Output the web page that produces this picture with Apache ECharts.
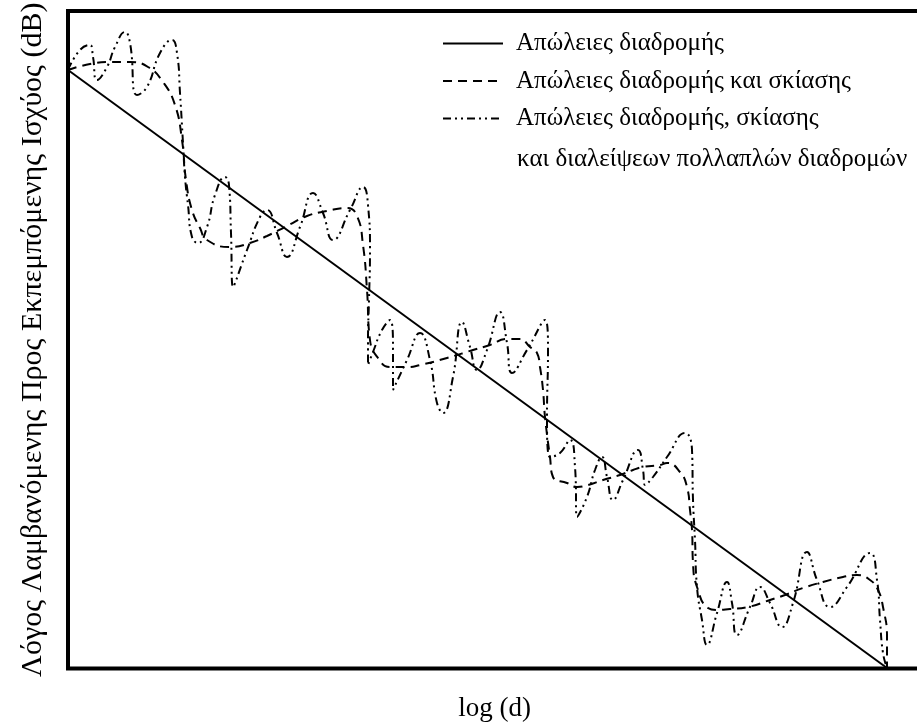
<!DOCTYPE html>
<html>
<head>
<meta charset="utf-8">
<script src="https://cdn.jsdelivr.net/npm/echarts@6/dist/echarts.min.js"></script>
<style>html,body{margin:0;padding:0;background:#fff}#c{width:917px;height:724px}</style>
</head>
<body>
<div id="c"></div>
<script>
// Series names / legend texts
const seriesNames = ['Απώλειες διαδρομής', 'Απώλειες διαδρομής και σκίασης', 'Απώλειες διαδρομής, σκίασης και διαλείψεων πολλαπλών διαδρομών'];
const legendLine3a = 'Απώλειες διαδρομής, σκίασης';
const legendLine3b = 'και διαλείψεων πολλαπλών διαδρομών';
const xName = 'log (d)';
const yName = 'Λόγος Λαμβανόμενης Προς Εκπεμπόμενης Ισχύος (dB)';

// [log(d), dB] pairs (relative units)
const pathLoss = [[0, -5.9], [8.19, -65.7]];

const shadowing = [
  [0, -5.9], [0.22, -5.3], [0.42, -5.1], [0.62, -5.1], [0.80, -5.6], [0.95, -7.1], [1.07, -9.4], [1.14, -12.9],
  [1.18, -16.9], [1.24, -19.9], [1.32, -21.7], [1.39, -22.9], [1.62, -23.6], [1.82, -23.2], [1.99, -22.5],
  [2.19, -21.5], [2.39, -20.5], [2.59, -20.0], [2.79, -19.7], [2.89, -20.5], [2.95, -23.4], [2.99, -27.9],
  [3.02, -32.9], [3.10, -34.7], [3.22, -35.6], [3.39, -35.6], [3.52, -35.4], [3.79, -34.7], [4.05, -33.9],
  [4.22, -33.4], [4.39, -32.8], [4.52, -32.8], [4.62, -33.6], [4.69, -34.2], [4.72, -35.6], [4.75, -37.9],
  [4.77, -40.6], [4.82, -44.6], [4.85, -46.6], [4.99, -47.2], [5.09, -47.6], [5.20, -47.4], [5.35, -46.9],
  [5.52, -46.4], [5.65, -45.9], [5.75, -45.6], [5.92, -45.4], [5.99, -45.2], [6.12, -46.1], [6.19, -47.6],
  [6.22, -49.9], [6.24, -51.9], [6.25, -55.2], [6.29, -57.6], [6.40, -59.7], [6.49, -59.9], [6.62, -59.8],
  [6.80, -59.6], [7.02, -58.9], [7.17, -58.4], [7.35, -57.7], [7.55, -57.1], [7.75, -56.6], [7.89, -56.4],
  [8.02, -56.9], [8.10, -57.9], [8.15, -59.6], [8.19, -62.6], [8.19, -65.6]
];

const multipath = [
  [0, -5.9], [0.12, -3.9], [0.22, -3.4], [0.25, -4.6], [0.29, -6.9], [0.39, -5.6], [0.47, -3.6], [0.57, -2.1],
  [0.62, -3.2], [0.69, -8.4], [0.79, -7.6], [0.92, -4.2], [1.04, -2.9], [1.09, -4.2], [1.12, -8.2], [1.15, -13.2],
  [1.17, -16.6], [1.20, -19.4], [1.24, -22.6], [1.30, -23.2], [1.39, -21.6], [1.47, -18.4], [1.57, -16.6],
  [1.61, -17.4], [1.63, -22.2], [1.65, -27.6], [1.79, -23.9], [1.92, -20.6], [1.99, -19.9], [2.09, -22.2],
  [2.19, -24.6], [2.32, -21.6], [2.45, -18.2], [2.55, -20.2], [2.65, -22.9], [2.82, -19.9], [2.95, -17.6],
  [3.00, -19.4], [3.02, -23.9], [3.01, -28.9], [3.00, -32.9], [3.00, -35.4], [3.05, -34.1], [3.14, -31.9],
  [3.22, -30.9], [3.25, -33.9], [3.25, -37.9], [3.39, -34.9], [3.52, -32.2], [3.62, -34.9], [3.69, -39.2],
  [3.75, -40.2], [3.85, -36.6], [3.94, -31.1], [4.02, -33.6], [4.09, -35.9], [4.19, -33.9], [4.32, -30.1],
  [4.39, -33.2], [4.44, -36.2], [4.59, -33.9], [4.77, -30.9], [4.80, -33.9], [4.79, -40.6], [4.82, -44.6],
  [4.92, -44.2], [5.02, -42.9], [5.07, -45.6], [5.09, -50.6], [5.19, -48.6], [5.27, -45.9], [5.34, -44.6],
  [5.39, -46.6], [5.45, -48.9], [5.55, -46.9], [5.70, -43.9], [5.75, -45.9], [5.77, -47.4], [5.85, -46.6],
  [5.99, -44.6], [6.17, -42.2], [6.24, -43.9], [6.25, -48.9], [6.27, -52.9], [6.29, -57.6], [6.34, -60.9],
  [6.39, -63.4], [6.49, -60.2], [6.59, -57.1], [6.64, -59.2], [6.69, -62.4], [6.82, -59.6], [6.92, -57.6],
  [7.02, -59.2], [7.14, -61.6], [7.25, -59.2], [7.39, -54.1], [7.49, -56.9], [7.62, -59.6], [7.79, -57.6],
  [8.02, -54.2], [8.09, -56.9], [8.12, -60.9], [8.15, -64.2], [8.19, -65.7]
];

const FONT = '"Liberation Serif", "DejaVu Serif", serif';
const chart = echarts.init(document.getElementById('c'), null, {renderer: 'canvas'});
chart.setOption({
  animation: false,
  backgroundColor: '#fff',
  color: ['#000', '#000', '#000'],
  grid: {left: 68, right: -4, top: 11, bottom: 55.5, show: true, borderColor: '#000', borderWidth: 4,
         backgroundColor: 'transparent', containLabel: false, outerBoundsMode: 'none'},
  xAxis: {
    type: 'value', min: 0, max: 8.53,
    name: xName, nameLocation: 'middle', nameGap: 27,
    nameTextStyle: {fontFamily: FONT, fontSize: 27, color: '#000'},
    axisLine: {show: false}, axisTick: {show: false}, axisLabel: {show: false}, splitLine: {show: false}
  },
  yAxis: {
    type: 'value', min: -65.75, max: 0,
    name: yName, nameLocation: 'middle', nameGap: 20, nameRotate: 90,
    nameTextStyle: {fontFamily: FONT, fontSize: 30, color: '#000'},
    axisLine: {show: false}, axisTick: {show: false}, axisLabel: {show: false}, splitLine: {show: false}
  },
  legend: {
    orient: 'vertical', left: 437, top: 25,
    itemWidth: 60, itemHeight: 14, itemGap: 10.5,
    data: seriesNames,
    itemStyle: {opacity: 0},
    formatter: function (n) { return n === seriesNames[2] ? legendLine3a : n; },
    textStyle: {fontFamily: FONT, fontSize: 25, color: '#000', lineHeight: 27, padding: [0, 0, 0, 8]}
  },
  graphic: [{
    type: 'text', left: 517, top: 147,
    style: {text: legendLine3b, font: '25px ' + FONT, fill: '#000'}
  }],
  series: [
    {name: seriesNames[0], type: 'line', data: pathLoss, showSymbol: false, symbol: 'none',
     itemStyle: {color: '#000'}, lineStyle: {color: '#000', width: 2, type: 'solid'}},
    {name: seriesNames[1], type: 'line', data: shadowing, showSymbol: false, symbol: 'none', smooth: 0.5,
     itemStyle: {color: '#000'}, lineStyle: {color: '#000', width: 2, type: [9, 6]}},
    {name: seriesNames[2], type: 'line', data: multipath, showSymbol: false, symbol: 'none', smooth: 0.5,
     itemStyle: {color: '#000'}, lineStyle: {color: '#000', width: 2, type: [8, 4, 2, 4, 2, 4]}}
  ]
});
</script>
</body>
</html>
